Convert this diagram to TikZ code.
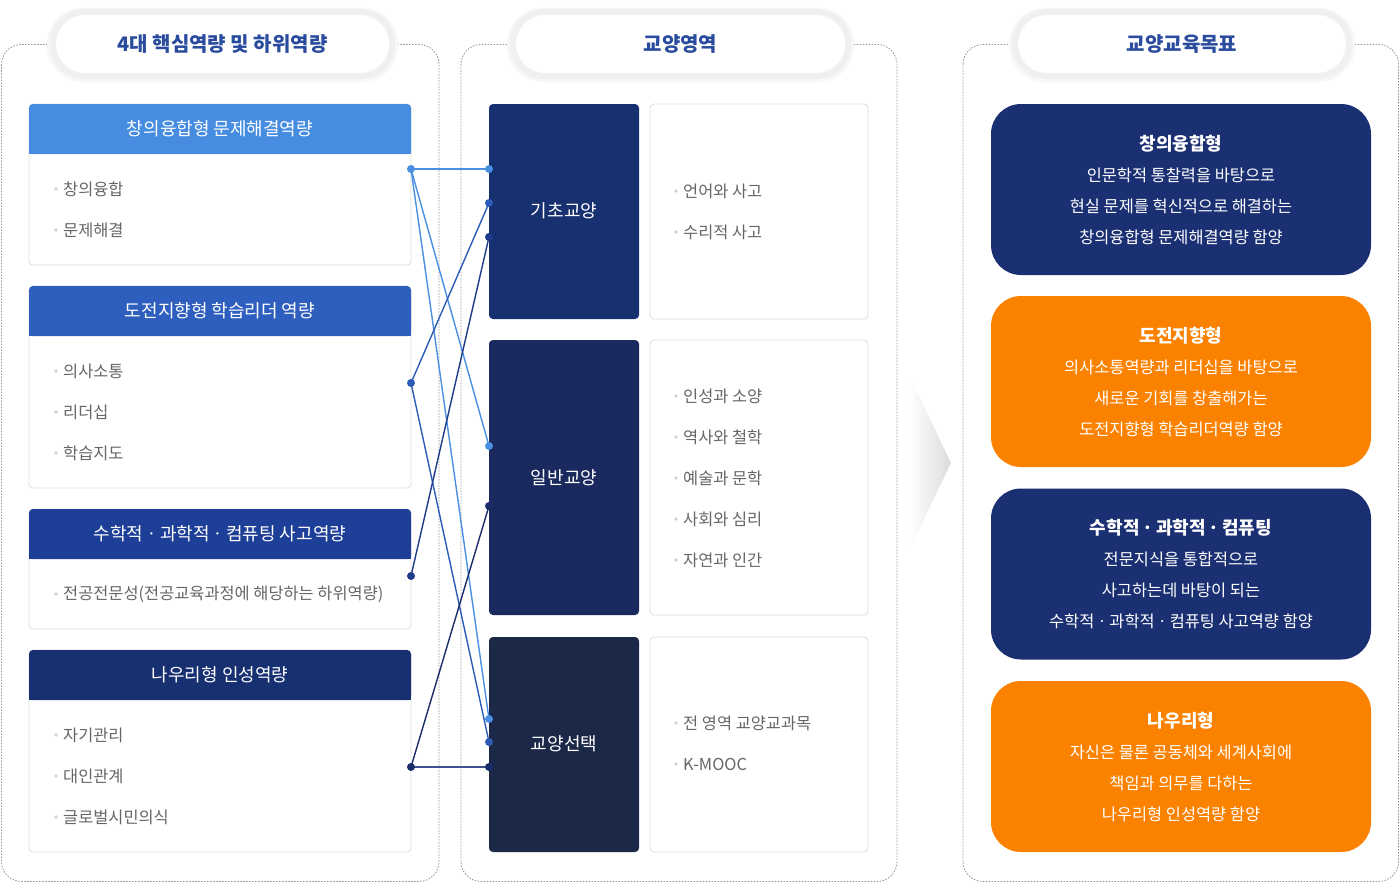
\documentclass[tikz,border=0pt]{standalone}
\usepackage{fontspec}
\setmainfont{Noto Sans CJK KR}
\definecolor{lb}{HTML}{468CE0}
\definecolor{mb}{HTML}{2F5FBE}
\definecolor{db}{HTML}{1E3F97}
\definecolor{nv}{HTML}{163072}
\definecolor{midA}{HTML}{17306F}
\definecolor{midB}{HTML}{1A2A5E}
\definecolor{midC}{HTML}{1C2848}
\definecolor{rnv}{HTML}{1B3073}
\definecolor{org}{HTML}{FB8200}
\definecolor{ttl}{HTML}{2A4C9E}
\definecolor{itm}{HTML}{666666}
\definecolor{bulc}{HTML}{D2D2D2}
\definecolor{bord}{HTML}{DDDDDD}
\definecolor{lnA}{HTML}{4A8FE2}
\definecolor{lnB}{HTML}{2D5BB8}
\definecolor{lnC}{HTML}{1E3A8A}
\definecolor{lnD}{HTML}{1A2D6B}
\definecolor{lnE}{HTML}{3D5290}
\tikzset{
  panel/.style={draw=gray!85, dash pattern=on 1.5pt off 1.5pt, line width=0.8pt, rounded corners=20},
  pilltxt/.style={font=\fontsize{20}{22}\selectfont\bfseries, text=ttl},
  lhead/.style={font=\fontsize{18}{21}\selectfont, text=white},
  itemtxt/.style={font=\fontsize{16.4}{19}\selectfont, text=itm, anchor=west, inner sep=0pt},
  bodybox/.style={draw=bord, line width=0.8pt, rounded corners=4, fill=white},
  midlab/.style={font=\fontsize{18}{21}\selectfont, text=white},
  rbox/.style={rounded corners=30, text=white, align=center, font=\fontsize{16.4}{31}\selectfont},
  conn/.style={line width=1.4pt},
  dot/.style={circle, inner sep=0pt, minimum size=8pt},
}
\newcommand\bitem[4]{\fill[bulc] (#1-7,#2) circle (1.8pt); \node[itemtxt] (#3) at (#1,#2) {#4};}
\newcommand\pill[4]{%
  \fill[black!3, rounded corners=36] (#1-9,#2-7) rectangle (#3+9,#4+9);
  \fill[black!6, rounded corners=34] (#1-6,#2-6) rectangle (#3+6,#4+6);
  \fill[white, rounded corners=29] (#1,#2) rectangle (#3,#4);}
\begin{document}
\begin{tikzpicture}[x=1pt,y=-1pt]
\useasboundingbox[fill=white] (0,0) rectangle (1400,883);

% panels
\draw[panel] (1.5,44.5) rectangle (439,881.5);
\draw[panel] (461,44.5) rectangle (897,881.5);
\draw[panel] (963,44.5) rectangle (1398.5,881.5);

% pills
\pill{56}{15}{389}{73}
\node[pilltxt] (p1) at (222.5,44) {4대 핵심역량 및 하위역량};
\pill{516}{15}{845}{73}
\node[pilltxt] (p2) at (680.5,44) {교양영역};
\pill{1018}{15}{1346}{73}
\node[pilltxt] (p3) at (1182,44) {교양교육목표};

% left boxes
\draw[bodybox] (29,104) rectangle (411,265);
\fill[lb, rounded corners=4] (29,104) rectangle (411,154); \fill[lb] (29,130) rectangle (411,154);
\node[lhead] (h1) at (220,129) {창의융합형 문제해결역량};
\bitem{63}{189}{i11}{창의융합}
\bitem{63}{230}{i12}{문제해결}

\draw[bodybox] (29,286) rectangle (411,488);
\fill[mb, rounded corners=4] (29,286) rectangle (411,336); \fill[mb] (29,312) rectangle (411,336);
\node[lhead] (h2) at (220,311) {도전지향형 학습리더 역량};
\bitem{63}{371}{i21}{의사소통}
\bitem{63}{412}{i22}{리더십}
\bitem{63}{453}{i23}{학습지도}

\draw[bodybox] (29,509) rectangle (411,629);
\fill[db, rounded corners=4] (29,509) rectangle (411,559); \fill[db] (29,535) rectangle (411,559);
\node[lhead] (h3) at (220,534) {수학적ㆍ과학적ㆍ컴퓨팅 사고역량};
\bitem{63}{594}{i31}{전공전문성(전공교육과정에 해당하는 하위역량)}

\draw[bodybox] (29,650) rectangle (411,852);
\fill[nv, rounded corners=4] (29,650) rectangle (411,700); \fill[nv] (29,676) rectangle (411,700);
\node[lhead] (h4) at (220,675) {나우리형 인성역량};
\bitem{63}{735}{i41}{자기관리}
\bitem{63}{776}{i42}{대인관계}
\bitem{63}{817}{i43}{글로벌시민의식}

% middle boxes
\fill[midA, rounded corners=4] (489,104) rectangle (639,319);
\node[midlab] (m1) at (564,211) {기초교양};
\draw[bodybox] (650,104) rectangle (868,319);
\bitem{683}{191}{w11}{언어와 사고}
\bitem{683}{232}{w12}{수리적 사고}

\fill[midB, rounded corners=4] (489,340) rectangle (639,615);
\node[midlab] (m2) at (564,478) {일반교양};
\draw[bodybox] (650,340) rectangle (868,615);
\bitem{683}{396}{w21}{인성과 소양}
\bitem{683}{437}{w22}{역사와 철학}
\bitem{683}{478}{w23}{예술과 문학}
\bitem{683}{519}{w24}{사회와 심리}
\bitem{683}{560}{w25}{자연과 인간}

\fill[midC, rounded corners=4] (489,637) rectangle (639,852);
\node[midlab] (m3) at (564,744) {교양선택};
\draw[bodybox] (650,637) rectangle (868,852);
\bitem{683}{723}{w31}{전 영역 교양교과목}
\bitem{683}{764}{w32}{K-MOOC}

% connector end points
\coordinate (A1) at (411,169);
\coordinate (A2) at (411,383);
\coordinate (A3) at (411,576);
\coordinate (A4) at (411,767);
\coordinate (B1) at (489,169);
\coordinate (B2) at (489,203);
\coordinate (B3) at (489,237);
\coordinate (B4) at (489,446);
\coordinate (B5) at (489,506);
\coordinate (B6) at (489,719);
\coordinate (B7) at (489,742);
\coordinate (B8) at (489,767);

\draw[conn, lnA] (A1) -- (B1);
\draw[conn, lnA] (A1) -- (B4);
\draw[conn, lnA] (A1) -- (B6);
\draw[conn, lnB] (A2) -- (B2);
\draw[conn, lnB] (A2) -- (B7);
\draw[conn, lnC] (A3) -- (B3);
\draw[conn, lnD] (A4) -- (B5);
\draw[conn, lnE] (A4) -- (B8);

\node[dot, fill=lnA] (dA1) at (A1) {};
\node[dot, fill=lnB] (dA2) at (A2) {};
\node[dot, fill=lnC] (dA3) at (A3) {};
\node[dot, fill=lnD] (dA4) at (A4) {};
\node[dot, fill=lnA] (dB1) at (B1) {};
\node[dot, fill=lnB] (dB2) at (B2) {};
\node[dot, fill=lnC] (dB3) at (B3) {};
\node[dot, fill=lnA] (dB4) at (B4) {};
\node[dot, fill=lnD] (dB5) at (B5) {};
\node[dot, fill=lnA] (dB6) at (B6) {};
\node[dot, fill=lnB] (dB7) at (B7) {};
\node[dot, fill=lnD] (dB8) at (B8) {};

% chevron
\shade[left color=white, right color=black!14] (909,375) -- (951,463) -- (909,550) -- cycle;

% right boxes
\node[rbox, fill=rnv, minimum width=380pt, minimum height=171pt] (r1) at (1181,189.5)
  {{\bfseries\fontsize{18}{31}\selectfont 창의융합형}\\인문학적 통찰력을 바탕으로\\현실 문제를 혁신적으로 해결하는\\창의융합형 문제해결역량 함양};
\node[rbox, fill=org, minimum width=380pt, minimum height=171pt] (r2) at (1181,381.5)
  {{\bfseries\fontsize{18}{31}\selectfont 도전지향형}\\의사소통역량과 리더십을 바탕으로\\새로운 기회를 창출해가는\\도전지향형 학습리더역량 함양};
\node[rbox, fill=rnv, minimum width=380pt, minimum height=171pt] (r3) at (1181,574)
  {{\bfseries\fontsize{18}{31}\selectfont 수학적ㆍ과학적ㆍ컴퓨팅}\\전문지식을 통합적으로\\사고하는데 바탕이 되는\\수학적ㆍ과학적ㆍ컴퓨팅 사고역량 함양};
\node[rbox, fill=org, minimum width=380pt, minimum height=171pt] (r4) at (1181,766.5)
  {{\bfseries\fontsize{18}{31}\selectfont 나우리형}\\자신은 물론 공동체와 세계사회에\\책임과 의무를 다하는\\나우리형 인성역량 함양};
\end{tikzpicture}
\end{document}
